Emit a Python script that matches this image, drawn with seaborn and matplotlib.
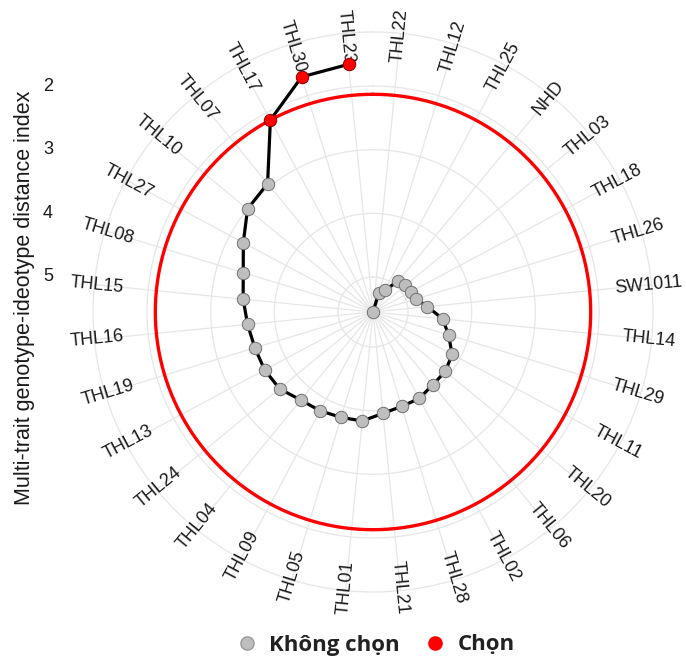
import numpy as np
import pandas as pd
import matplotlib
matplotlib.use("Agg")
import matplotlib.pyplot as plt
import seaborn as sns
from matplotlib.lines import Line2D

# ---- data (clockwise order starting just right of the top) ----
genotypes = ["THL22", "THL12", "THL25", "NHD", "THL03", "THL18", "THL26", "SW1011",
             "THL14", "THL29", "THL11", "THL20", "THL06", "THL02", "THL28", "THL21",
             "THL01", "THL05", "THL09", "THL04", "THL24", "THL13", "THL19", "THL16",
             "THL15", "THL08", "THL27", "THL10", "THL07", "THL17", "THL30", "THL23"]
mgidi = [5.55, 5.23, 5.16, 4.92, 4.89, 4.88, 4.84, 4.69,
         4.45, 4.31, 4.14, 4.08, 4.07, 4.01, 4.00, 3.95,
         3.83, 3.82, 3.79, 3.76, 3.65, 3.62, 3.61, 3.57,
         3.50, 3.42, 3.24, 3.00, 2.94, 2.13, 1.69, 1.64]
selected = [False] * 29 + [True] * 3
radial_ticks = [2, 3, 4, 5]
legend_labels = ["Không chọn", "Chọn"]
axis_title = "Multi-trait genotype-ideotype distance index"

gray_col = "#BEBEBE"
red_col = "#FF0000"
text_col = "#1a1a1a"

sns.set_style("white")
plt.rcParams["font.family"] = ["Liberation Sans", "DejaVu Sans"]

W, H = 686, 661
fig = plt.figure(figsize=(W / 100, H / 100), dpi=100)
ax = fig.add_axes([93 / W, 69 / H, 560 / W, 560 / H], projection="polar")

n = len(genotypes)
df = pd.DataFrame({"genotype": genotypes, "mgidi": mgidi, "sel": selected})
df["theta"] = (np.arange(n) + 0.5) * 2 * np.pi / n

ax.set_theta_zero_location("N")
ax.set_theta_direction(-1)
vmax, vmin = df["mgidi"].max(), df["mgidi"].min()
ax.set_ylim(vmax, vmin - 0.125 * (vmax - vmin))

# cutoff circle
cut = df.loc[df["sel"], "mgidi"].max()
tt = np.linspace(0, 2 * np.pi, 721)
ax.plot(tt, np.full_like(tt, cut), color=red_col, lw=2.4, zorder=2)

sns.lineplot(data=df, x="theta", y="mgidi", sort=False, estimator=None,
             color="black", lw=2.3, ax=ax, zorder=3)
sns.scatterplot(data=df[~df["sel"]], x="theta", y="mgidi", color=gray_col,
                edgecolor="#707070", linewidth=0.7, s=80, ax=ax, zorder=4, legend=False)
sns.scatterplot(data=df[df["sel"]], x="theta", y="mgidi", color=red_col,
                edgecolor="#8a0000", linewidth=0.7, s=80, ax=ax, zorder=5, legend=False)

ax.set_xlabel("")
ax.set_ylabel("")
ax.set_xticks(df["theta"])
ax.set_xticklabels([])
ax.set_yticks(radial_ticks)
ax.set_yticklabels([])
ax.tick_params(length=0)
ax.grid(True, color="#E6E6E6", lw=0.9)
ax.spines["polar"].set_color("#E6E6E6")
ax.spines["polar"].set_linewidth(0.9)

# genotype labels around
for th, g in zip(df["theta"], df["genotype"]):
    deg = np.degrees(th)
    rot = 90 - deg if deg < 180 else 270 - deg
    ax.text(th, 0.99, g, transform=ax.get_xaxis_transform(), rotation=rot,
            rotation_mode="anchor", ha="center", va="center",
            fontsize=13, color=text_col)

# radial axis labels on the left
inv = fig.transFigure.inverted()
for v in radial_ticks:
    yd = ax.transData.transform((0, v))[1]
    yf = inv.transform((0, yd))[1]
    fig.text(48 / W, yf, str(v), ha="center", va="center", fontsize=13, color=text_col)

fig.text(25 / W, 1 - 298 / H, axis_title, rotation=90, ha="center", va="center",
         fontsize=15.5, color=text_col)

handles = [Line2D([], [], marker="o", ls="", markersize=9.5,
                  markerfacecolor=gray_col, markeredgecolor="#9a9a9a"),
           Line2D([], [], marker="o", ls="", markersize=9.5,
                  markerfacecolor=red_col, markeredgecolor=red_col)]
leg = fig.legend(handles, legend_labels, loc="center", bbox_to_anchor=(375 / W, 16 / H),
                 ncol=2, frameon=False, handletextpad=0.5, columnspacing=1.1,
                 handlelength=1.0,
                 prop={"family": "Open Sans", "weight": "bold", "size": 16})
for t in leg.get_texts():
    t.set_color("#222222")

fig.savefig("out.png", dpi=100)
